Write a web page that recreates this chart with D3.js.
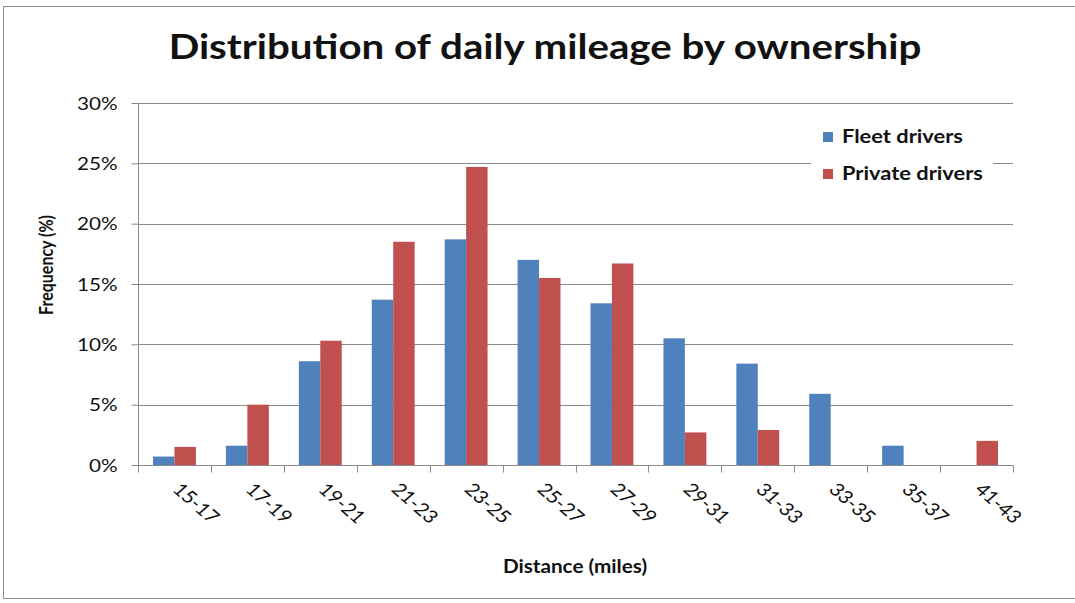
<!DOCTYPE html>
<html>
<head>
<meta charset="utf-8">
<script src="https://cdn.jsdelivr.net/npm/d3@7"></script>
<style>
  html, body { margin: 0; padding: 0; background: #fff; }
  svg text { font-family: Lato, "Open Sans", sans-serif; fill: #111; }
</style>
</head>
<body>
<svg id="chart" width="1075" height="603"></svg>
<script>
// Share of trips per daily-distance bin, by vehicle ownership (%)
const categories = ["15-17", "17-19", "19-21", "21-23", "23-25", "25-27",
                    "27-29", "29-31", "31-33", "33-35", "35-37", "41-43"];
const fleet   = [0.7, 1.6, 8.6, 13.7, 18.7, 17.0, 13.4, 10.5, 8.4, 5.9, 1.6, 0];
const privat  = [1.5, 5.0, 10.3, 18.5, 24.7, 15.5, 16.7, 2.7, 2.9, 0, 0, 2.0];
const seriesNames = ["Fleet drivers", "Private drivers"];
const seriesColors = ["#4F81BD", "#C0504D"];
const yTicks = [0, 5, 10, 15, 20, 25, 30];

const svg = d3.select("#chart");
const W = 1075;
const plot = { left: 138, right: 1013, top: 103, bottom: 465 };
const SX = 1.15; // horizontal glyph stretch used by every label

// outer chart frame
svg.append("rect")
  .attr("x", 3.5).attr("y", 6.5).attr("width", W + 5).attr("height", 592)
  .attr("fill", "#fff").attr("stroke", "#8c8c8c").attr("stroke-width", 1);

const x = d3.scaleBand().domain(categories).range([plot.left, plot.right]);
const inner = d3.scaleBand().domain(seriesNames).range([0, x.bandwidth()]).paddingInner(0).paddingOuter(0.7);
const y = d3.scaleLinear().domain([0, 30]).range([plot.bottom, plot.top]);

// horizontal gridlines
svg.append("g").selectAll("line").data(yTicks.filter(d => d > 0)).join("line")
  .attr("x1", plot.left).attr("x2", plot.right)
  .attr("y1", d => Math.round(y(d)) + 0.5).attr("y2", d => Math.round(y(d)) + 0.5)
  .attr("stroke", "#8a8a8a").attr("stroke-width", 1);

// bars
const rows = categories.map((c, i) => ({ cat: c, vals: [fleet[i], privat[i]] }));
const groups = svg.append("g").selectAll("g").data(rows).join("g")
  .attr("transform", d => `translate(${x(d.cat)},0)`);
groups.selectAll("rect").data(d => d.vals.map((v, k) => ({ v, k }))).join("rect")
  .attr("x", d => inner(seriesNames[d.k]))
  .attr("width", inner.bandwidth())
  .attr("y", d => y(d.v))
  .attr("height", d => y(0) - y(d.v))
  .attr("fill", d => seriesColors[d.k]);

// y axis
const yAxis = d3.axisLeft(y).tickValues(yTicks).tickFormat(d => d + "%").tickSize(7).tickPadding(0);
const gy = svg.append("g").attr("transform", `translate(${plot.left + 0.5},0)`).call(yAxis);
gy.select(".domain").attr("stroke", "#8a8a8a").attr("d", `M0,${plot.top}V${plot.bottom}`);
gy.selectAll(".tick line").attr("stroke", "#8a8a8a");
gy.selectAll(".tick text")
  .attr("x", 0).attr("dy", null).attr("y", 0)
  .attr("transform", `translate(-21,6) scale(${SX},1)`)
  .style("font-family", "Lato, sans-serif").style("font-size", "18px").attr("fill", "#222");

// x axis: tick marks on category boundaries
const gx = svg.append("g").attr("transform", `translate(0,${plot.bottom + 0.5})`);
gx.append("line").attr("x1", plot.left).attr("x2", plot.right).attr("stroke", "#8a8a8a");
gx.selectAll("line.tk").data(d3.range(categories.length + 1)).join("line").attr("class", "tk")
  .attr("x1", i => Math.round(plot.left + i * x.bandwidth()) + 0.5)
  .attr("x2", i => Math.round(plot.left + i * x.bandwidth()) + 0.5)
  .attr("y1", 0).attr("y2", 7).attr("stroke", "#8a8a8a");
gx.selectAll("text").data(categories).join("text")
  .attr("transform", d => `translate(${x(d) + x.bandwidth() / 2 - 3},${25}) scale(${SX},1) rotate(45)`)
  .attr("text-anchor", "start")
  .style("font-size", "18px").attr("fill", "#222")
  .text(d => d);

// title
svg.append("text").attr("transform", `translate(545,59) scale(${SX},1)`).attr("text-anchor", "middle")
  .style("font-size", "35px").style("font-weight", "700").text("Distribution of daily mileage by ownership");

// axis titles
svg.append("text").attr("transform", `translate(53,265) scale(${SX},1) rotate(-90)`)
  .attr("text-anchor", "middle").style("font-size", "16px").style("font-weight", "700").text("Frequency (%)");
svg.append("text").attr("transform", `translate(575,573) scale(${SX},1)`).attr("text-anchor", "middle")
  .style("font-size", "18px").style("font-weight", "700").text("Distance (miles)");

// legend
const lg = svg.append("g").attr("transform", "translate(811,118)");
lg.append("rect").attr("x", 0).attr("y", 0).attr("width", 182).attr("height", 72).attr("fill", "#fff");
seriesNames.forEach((name, k) => {
  lg.append("rect").attr("x", 12).attr("y", 14 + k * 37).attr("width", 10).attr("height", 10).attr("fill", seriesColors[k]);
  lg.append("text").attr("transform", `translate(31,${25 + k * 37}) scale(${SX},1)`)
    .style("font-size", "19px").style("font-weight", "700").text(name);
});
</script>
</body>
</html>
